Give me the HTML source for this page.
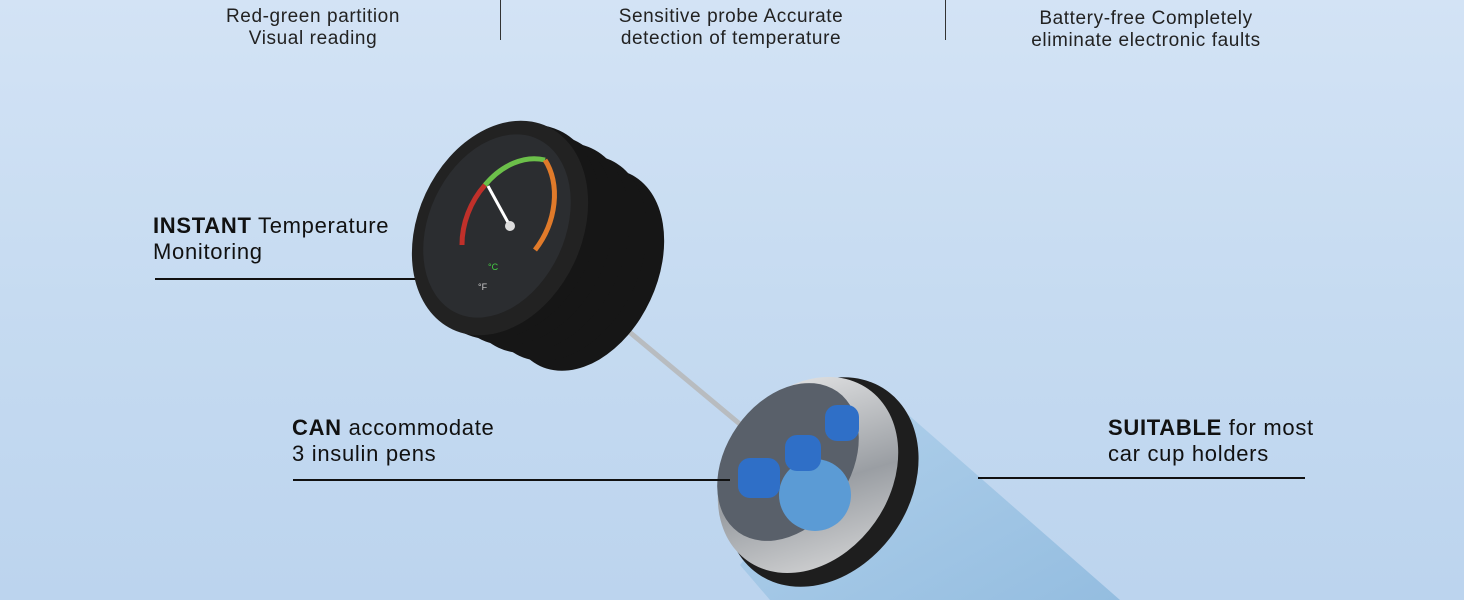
<!DOCTYPE html>
<html><head><meta charset="utf-8"><style>
html,body{margin:0;padding:0;overflow:hidden}
body{width:1464px;height:600px;overflow:hidden;position:relative;background:linear-gradient(180deg,#d3e3f5 0%,#c6dbf1 50%,#bcd4ee 100%);font-family:"Liberation Sans",sans-serif;color:#111}
.t{position:absolute;text-align:center;font-size:19px;letter-spacing:0.6px;line-height:22px;color:#222}
.l{position:absolute;font-size:22px;letter-spacing:0.7px;line-height:26px;color:#111}
.l b{font-weight:bold}
.hr{position:absolute;height:2px;background:#111}
.vr{position:absolute;width:1px;background:#333}
svg{position:absolute;left:0;top:0;overflow:hidden}
</style></head><body>
<svg width="1464" height="600" viewBox="0 0 1464 600">
<defs>
<linearGradient id="steel" x1="0" y1="0" x2="1" y2="1"><stop offset="0" stop-color="#f2f2f2"/><stop offset=".55" stop-color="#9a9ea3"/><stop offset="1" stop-color="#e0e0e0"/></linearGradient>
<linearGradient id="tb" x1="0" y1="0" x2="1" y2="1"><stop offset="0" stop-color="#b3d2ec"/><stop offset="1" stop-color="#94bde0"/></linearGradient>
</defs>
<!-- probe -->
<line x1="615" y1="320" x2="765" y2="445" stroke="#b8bcc0" stroke-width="5"/>
<!-- canister tube -->
<polygon points="880,390 1120,600 770,600 740,565" fill="url(#tb)"/>
<ellipse cx="822" cy="482" rx="88" ry="112" transform="rotate(35 822 482)" fill="#1e1e1e"/>
<ellipse cx="808" cy="475" rx="82" ry="105" transform="rotate(35 808 475)" fill="url(#steel)"/>
<ellipse cx="788" cy="462" rx="62" ry="86" transform="rotate(35 788 462)" fill="#59606a"/>
<circle cx="815" cy="495" r="36" fill="#5b9bd5"/>
<rect x="738" y="458" width="42" height="40" rx="12" fill="#2f6fc7"/>
<rect x="785" y="435" width="36" height="36" rx="12" fill="#2f6fc7"/>
<rect x="825" y="405" width="34" height="36" rx="12" fill="#2f6fc7"/>
<!-- thermometer body -->
<g fill="#161616">
<ellipse cx="585" cy="270" rx="72" ry="106" transform="rotate(25 585 270)"/>
<ellipse cx="565" cy="258" rx="75" ry="108" transform="rotate(25 565 258)"/>
<ellipse cx="545" cy="248" rx="78" ry="110" transform="rotate(25 545 248)"/>
<ellipse cx="528" cy="240" rx="80" ry="110" transform="rotate(25 528 240)"/>
<ellipse cx="512" cy="232" rx="82" ry="112" transform="rotate(25 512 232)"/>
</g>
<ellipse cx="500" cy="228" rx="82" ry="112" transform="rotate(25 500 228)" fill="#222"/>
<ellipse cx="497" cy="226" rx="68" ry="96" transform="rotate(25 497 226)" fill="#2b2d30"/>
<path d="M462,245 A55,72 25 0 1 485,185" fill="none" stroke="#c0302a" stroke-width="5"/>
<path d="M485,185 A55,72 25 0 1 545,160" fill="none" stroke="#6cc04a" stroke-width="5"/>
<path d="M545,160 A55,72 25 0 1 535,250" fill="none" stroke="#e07a2a" stroke-width="5"/>
<line x1="510" y1="226" x2="488" y2="186" stroke="#fff" stroke-width="3"/>
<circle cx="510" cy="226" r="5" fill="#ddd"/>
<text x="488" y="270" fill="#4c4" font-size="9" font-family="Liberation Sans">°C</text>
<text x="478" y="290" fill="#ccc" font-size="9" font-family="Liberation Sans">°F</text>
</svg>
<div class="t" style="left:170px;top:6px;width:286px">Red-green partition<br>Visual reading</div>
<div class="vr" style="left:500px;top:0;height:40px"></div>
<div class="t" style="left:570px;top:6px;width:322px">Sensitive probe Accurate<br>detection of temperature</div>
<div class="vr" style="left:945px;top:0;height:40px"></div>
<div class="t" style="left:990px;top:8px;width:312px">Battery-free Completely<br>eliminate electronic faults</div>
<div class="l" style="left:153px;top:213px"><b>INSTANT</b> Temperature<br>Monitoring</div>
<div class="hr" style="left:155px;top:278px;width:260px"></div>
<div class="l" style="left:292px;top:415px"><b>CAN</b> accommodate<br>3 insulin pens</div>
<div class="hr" style="left:293px;top:479px;width:437px"></div>
<div class="l" style="left:1108px;top:415px"><b>SUITABLE</b> for most<br>car cup holders</div>
<div class="hr" style="left:978px;top:477px;width:327px"></div>
</body></html>
